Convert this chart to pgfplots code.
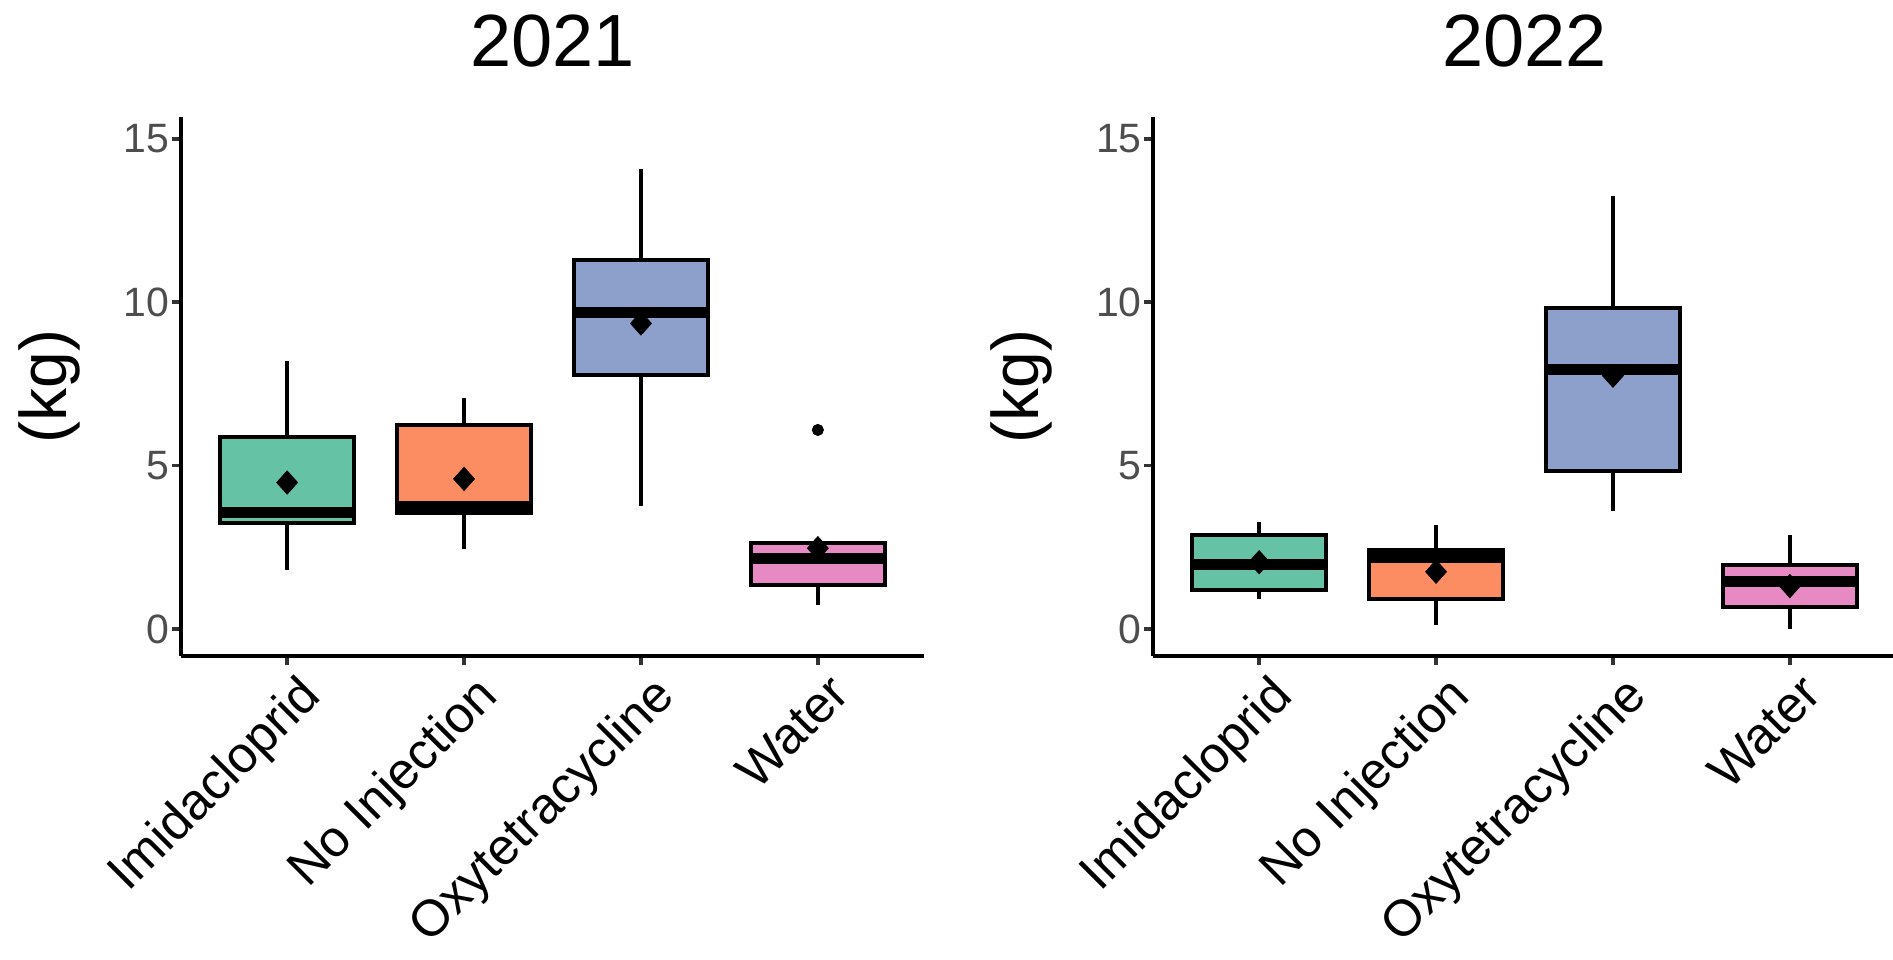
\documentclass[border=0pt]{standalone}
\usepackage{pgfplots}
\pgfplotsset{compat=1.18}
\usepgfplotslibrary{statistics}
\usepackage{fontspec}
\setmainfont{Liberation Sans}
\definecolor{cA}{HTML}{66C2A5}
\definecolor{cB}{HTML}{FC8D62}
\definecolor{cC}{HTML}{8DA0CB}
\definecolor{cD}{HTML}{E78AC3}
\definecolor{tickgrey}{HTML}{4D4D4D}
\definecolor{tickline}{HTML}{333333}

\pgfplotsset{
  panel/.style={
    scale only axis, width=371.5bp, height=269.5bp,
    anchor=south west,
    xmin=0.4, xmax=4.6, ymin=-0.83, ymax=15.67,
    axis x line*=bottom, axis y line*=left,
    axis line style={-, line width=2.1bp, black},
    tick align=outside,
    major tick length=4.5bp,
    major tick style={line width=1.9bp, tickline},
    xtick={1,2,3,4},
    xticklabels={Imidacloprid, No Injection, Oxytetracycline, Water},
    ytick={0,5,10,15},
    yticklabels={0,5,10,15},
    /pgf/number format/assume math mode=true,
    xticklabel style={rotate=45, anchor=north east, inner sep=0pt, yshift=-5.5bp, xshift=1bp,
      font=\fontsize{25.5bp}{30bp}\selectfont, color=black},
    yticklabel style={anchor=east, inner sep=0pt, xshift=-1bp,
      font=\fontsize{20.5bp}{24bp}\selectfont, color=tickgrey},
    clip=false,
    boxplot/draw direction=y,
    boxplot/box extend=0.76,
    boxplot/whisker extend=0,
    boxplot/every median/.style={line width=5.5bp},
  },
  bx/.style={draw=black, line width=2bp, fill=#1, solid},
  meanpts/.style={only marks, mark=diamond*, mark size=5.8bp, black, mark options={xscale=1.2}},
}

\begin{document}
\begin{tikzpicture}
\useasboundingbox (0,0) rectangle (946.5bp,480bp);

% ---------------- 2021 ----------------
\begin{axis}[panel, at={(90.5bp,152bp)}]
\addplot[bx=cA, boxplot prepared={draw position=1, lower whisker=1.80, lower quartile=3.23, median=3.55, upper quartile=5.87, upper whisker=8.21}] coordinates {};
\addplot[bx=cB, boxplot prepared={draw position=2, lower whisker=2.44, lower quartile=3.56, median=3.74, upper quartile=6.25, upper whisker=7.08}] coordinates {};
\addplot[bx=cC, boxplot prepared={draw position=3, lower whisker=3.76, lower quartile=7.78, median=9.69, upper quartile=11.29, upper whisker=14.08}] coordinates {};
\addplot[bx=cD, boxplot prepared={draw position=4, lower whisker=0.74, lower quartile=1.33, median=2.14, upper quartile=2.62, upper whisker=2.64}] coordinates {};
% outlier
\addplot[only marks, mark=*, mark size=2.8bp, black] coordinates {(4,6.09)};
% means
\addplot[meanpts] coordinates {(1,4.48) (2,4.59) (3,9.35) (4,2.47)};
\end{axis}

% ---------------- 2022 ----------------
\begin{axis}[panel, at={(576.5bp,152bp)}]
\addplot[bx=cA, boxplot prepared={draw position=1, lower whisker=0.92, lower quartile=1.20, median=1.98, upper quartile=2.86, upper whisker=3.27}] coordinates {};
\addplot[bx=cB, boxplot prepared={draw position=2, lower whisker=0.11, lower quartile=0.92, median=2.20, upper quartile=2.40, upper whisker=3.17}] coordinates {};
\addplot[bx=cC, boxplot prepared={draw position=3, lower whisker=3.60, lower quartile=4.83, median=7.93, upper quartile=9.83, upper whisker=13.24}] coordinates {};
\addplot[bx=cD, boxplot prepared={draw position=4, lower whisker=0.00, lower quartile=0.66, median=1.45, upper quartile=1.96, upper whisker=2.88}] coordinates {};
\addplot[meanpts] coordinates {(1,2.04) (2,1.75) (3,7.75) (4,1.31)};
\end{axis}

% titles and y labels
\node[anchor=base, inner sep=0pt, font=\fontsize{37bp}{44bp}\selectfont] at (276.25bp,446.6bp) {2021};
\node[anchor=base, inner sep=0pt, font=\fontsize{37bp}{44bp}\selectfont] at (762.25bp,446.6bp) {2022};
\node[rotate=90, anchor=north, inner sep=0pt, font=\fontsize{33bp}{40bp}\selectfont] at (9bp,286.75bp) {(kg)};
\node[rotate=90, anchor=north, inner sep=0pt, font=\fontsize{33bp}{40bp}\selectfont] at (495bp,286.75bp) {(kg)};
\end{tikzpicture}
\end{document}
